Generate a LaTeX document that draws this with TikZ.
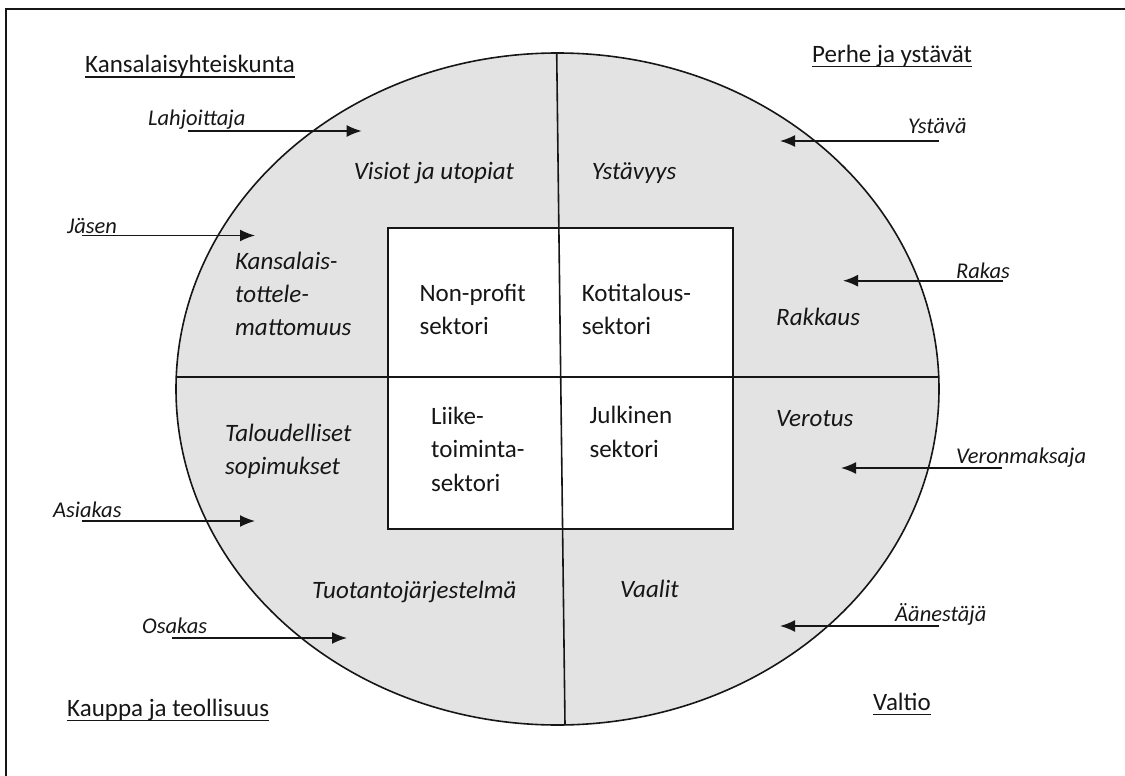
\documentclass[tikz,border=0pt]{standalone}
\usepackage{fontspec}
\setmainfont{Carlito}
\usetikzlibrary{arrows.meta}
\definecolor{zonegray}{RGB}{227,227,227}
\definecolor{ink}{RGB}{22,22,22}

\begin{document}
\begin{tikzpicture}[x=1pt,y=-1pt,
  every node/.style={inner sep=0pt, text=ink},
  heading/.style={anchor=base west, font=\fontsize{25}{30}\selectfont},
  role/.style={anchor=base west, font=\fontsize{22.5}{27}\selectfont\itshape},
  value/.style={anchor=base west, align=left, font=\fontsize{25}{33}\selectfont\itshape},
  sector/.style={anchor=base west, align=left, font=\fontsize{25}{33.5}\selectfont},
  flow/.style={-{Latex[length=15pt,width=12pt]}, line width=1.6pt, draw=ink},
  rule/.style={line width=1.6pt, draw=ink},
  uline/.style={line width=1.4pt, draw=ink}]

\useasboundingbox (0,0) rectangle (1125,776);

% page frame (left and top edges)
\coordinate (fbl) at (6,776);
\coordinate (ftl) at (6,9);
\coordinate (ftr) at (1125,9);
\draw[rule] (fbl) -- (ftl) -- (ftr);

% the large ellipse split into four zones
\coordinate (ec) at (557.5,389);
\draw[rule, fill=zonegray] (ec) ellipse [x radius=381.5, y radius=336];

% inner box of the four sectors
\coordinate (bx1) at (388,228);
\coordinate (bx2) at (733,529);
\draw[rule, fill=white] (bx1) rectangle (bx2);

% dividing lines
\coordinate (vtop) at (556.7,53);
\coordinate (vbot) at (565,725);
\coordinate (hl) at (176.2,377);
\coordinate (hr) at (938.8,377);
\draw[rule] (vtop) -- (vbot);
\draw[rule] (hl) -- (hr);

% corner headings
\node[heading] (kans) at (85,73) {Kansalaisyhteiskunta};
\node[heading] (perhe) at (812,62.7) {Perhe ja ystävät};
\node[heading] (kauppa) at (67,716.7) {Kauppa ja teollisuus};
\node[heading] (valtio) at (873,710.7) {Valtio};
\foreach \h in {kans,perhe,kauppa,valtio}
  \draw[uline] ([yshift=-4pt]\h.base west) -- ([yshift=-4pt]\h.base east);

% values inside the ellipse (multi-line nodes sit on their last baseline)
\node[value] (visiot) at (353.6,179) {Visiot ja utopiat};
\node[value] (ystavyys) at (591.6,179) {Ystävyys};
\node[value] (kansal) at (235,335) {Kansalais-\\tottele-\\mattomuus};
\node[value] (rakkaus) at (776,325) {Rakkaus};
\node[value] (talous) at (225,474) {Taloudelliset\\sopimukset};
\node[value] (verotus) at (776,426.7) {Verotus};
\node[value] (tuotanto) at (312,598) {Tuotantojärjestelmä};
\node[value] (vaalit) at (620,597) {Vaalit};

% sectors
\node[sector] (nonprofit) at (419.3,334.5) {Non-profit\\sektori};
\node[sector] (koti) at (581.7,334.5) {Kotitalous-\\sektori};
\node[sector] (liike) at (431,491) {Liike-\\toiminta-\\sektori};
\node[sector] (julk) at (589.3,457) {Julkinen\\sektori};

% roles and their arrows
\node[role] (lahj) at (148,125) {Lahjoittaja};
\coordinate (lahjA) at (187.7,131);
\coordinate (lahjB) at (361.7,131);
\draw[flow] (lahjA) -- (lahjB);

\node[role] (jasen) at (67,233) {Jäsen};
\coordinate (jasenA) at (82,235.5);
\coordinate (jasenB) at (255,235.5);
\draw[flow] (jasenA) -- (jasenB);

\node[role] (asiakas) at (53,517) {Asiakas};
\coordinate (asiakasA) at (82,521);
\coordinate (asiakasB) at (255,521);
\draw[flow] (asiakasA) -- (asiakasB);

\node[role] (osakas) at (142,633) {Osakas};
\coordinate (osakasA) at (172,638);
\coordinate (osakasB) at (347,638);
\draw[flow] (osakasA) -- (osakasB);

\node[role] (ystava) at (908,133) {Ystävä};
\coordinate (ystavaA) at (939,141);
\coordinate (ystavaB) at (780,141);
\draw[flow] (ystavaA) -- (ystavaB);

\node[role] (rakas) at (956,278) {Rakas};
\coordinate (rakasA) at (1003,280.7);
\coordinate (rakasB) at (843,280.7);
\draw[flow] (rakasA) -- (rakasB);

\node[role] (veron) at (956,463) {Veronmaksaja};
\coordinate (veronA) at (1002,468);
\coordinate (veronB) at (841,468);
\draw[flow] (veronA) -- (veronB);

\node[role] (aanest) at (895,621.7) {Äänestäjä};
\coordinate (aanestA) at (939,626);
\coordinate (aanestB) at (780,626);
\draw[flow] (aanestA) -- (aanestB);
\end{tikzpicture}
\end{document}
